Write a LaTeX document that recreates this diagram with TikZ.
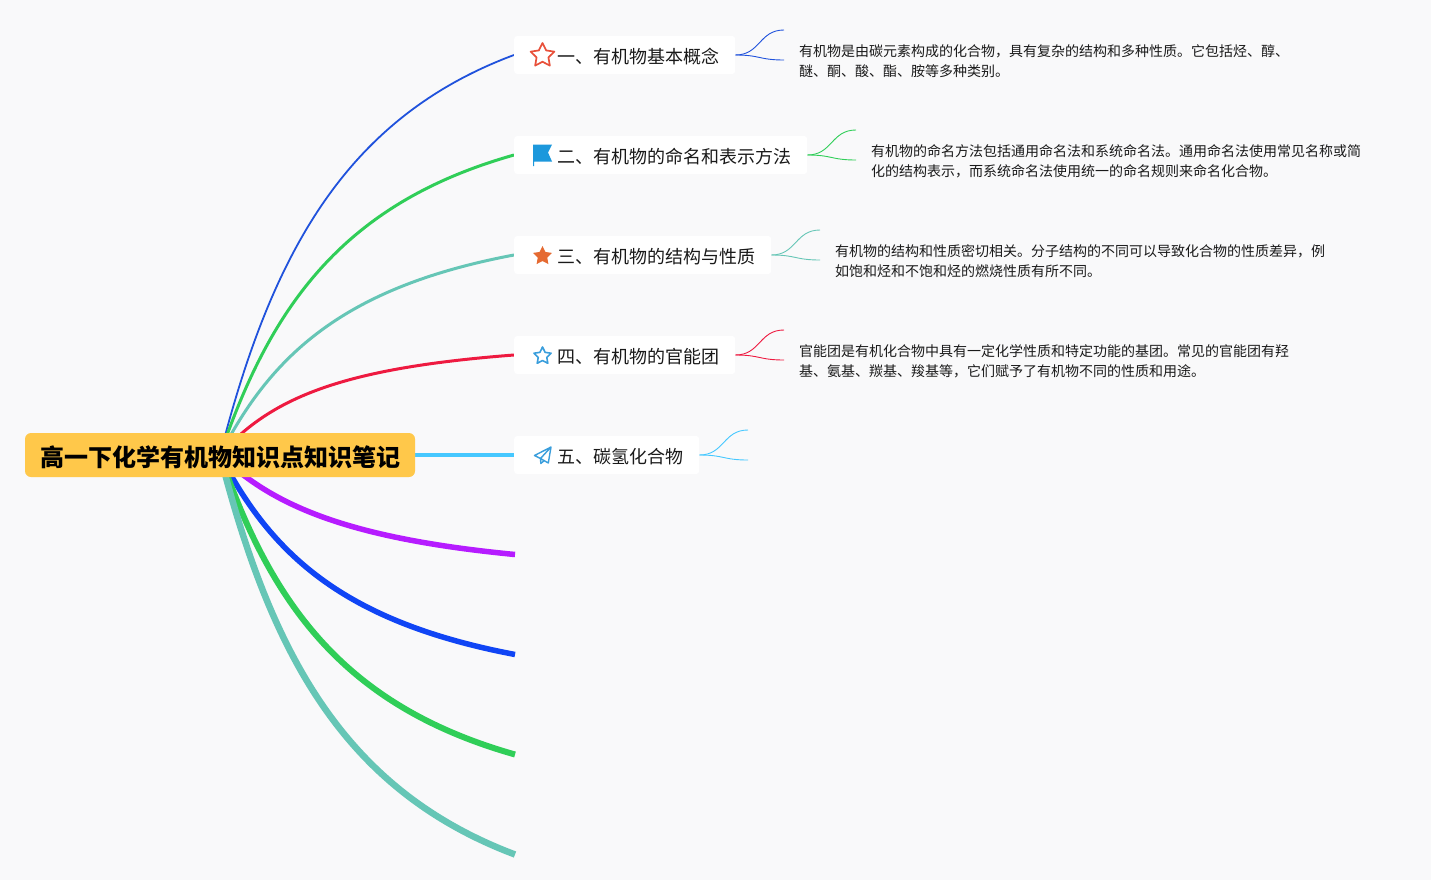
\documentclass[tikz,border=0pt]{standalone}
\usepackage{fontspec}
\setmainfont{Noto Sans CJK SC}
\usetikzlibrary{backgrounds,calc,shapes.geometric}
\definecolor{bgc}{HTML}{F9F9FA}
\definecolor{cblue}{HTML}{2052DC}
\definecolor{cgreen}{HTML}{30CE58}
\definecolor{cteal}{HTML}{66C6B6}
\definecolor{cred}{HTML}{EE1A40}
\definecolor{ccyan}{HTML}{46C8FF}
\definecolor{cpurple}{HTML}{B61CFF}
\definecolor{cdeep}{HTML}{1045F5}
\definecolor{croot}{HTML}{FFC84A}
\definecolor{ink}{HTML}{1A1A1A}
\definecolor{iconred}{HTML}{E8503A}
\definecolor{iconblue}{HTML}{1C98DC}
\definecolor{iconorange}{HTML}{E56A32}
\definecolor{iconsky}{HTML}{3A9EDC}
\tikzset{
  x=1pt,y=-1pt,
  rootbox/.style={fill=croot,rounded corners=6pt,inner sep=0pt,minimum width=390pt,minimum height=44pt,text height=23pt,text depth=0.8pt,font=\fontsize{24}{28}\selectfont\bfseries,text=black},
  topicbox/.style={fill=white,rounded corners=3pt,inner xsep=16pt,inner ysep=0pt,minimum height=38pt,text height=18pt,text depth=1.4pt,anchor=west,font=\fontsize{18}{22}\selectfont,text=ink},
  detailbox/.style={anchor=west,inner sep=0pt,align=left,font=\fontsize{14}{20}\selectfont,text=ink},
  mainedge/.style={line cap=butt},
  twig/.style={line width=0.9pt},
  iconstar/.style={star,star points=5,star point ratio=2.0,minimum size=#1,inner sep=0pt,line join=round},
}
\newcommand{\twigs}[4]{%
  \draw[twig,#4] (#1.east) .. controls ($(#1.east)+(25,0)$) and ($(#2)+(-25,0)$) .. (#2);
  \draw[twig,#4] (#1.east) .. controls ($(#1.east)+(25,0)$) and ($(#3)+(-25,0)$) .. (#3);
}
\begin{document}
\begin{tikzpicture}
\useasboundingbox (0,0) rectangle (1431,880);
\node[rootbox] (root) at (220,455) {高一下化学有机物知识点知识笔记};
\node[topicbox] (t1) at (514,55) {\hspace*{27pt}一、有机物基本概念};
\node[topicbox] (t2) at (514,155) {\hspace*{27pt}二、有机物的命名和表示方法};
\node[topicbox] (t3) at (514,255) {\hspace*{27pt}三、有机物的结构与性质};
\node[topicbox] (t4) at (514,355) {\hspace*{27pt}四、有机物的官能团};
\node[topicbox] (t5) at (514,455) {\hspace*{27pt}五、碳氢化合物};
\node[detailbox] (d1) at (799,61.5) {有机物是由碳元素构成的化合物，具有复杂的结构和多种性质。它包括烃、醇、\\醚、酮、酸、酯、胺等多种类别。};
\node[detailbox] (d2) at (871,161.5) {有机物的命名方法包括通用命名法和系统命名法。通用命名法使用常见名称或简\\化的结构表示，而系统命名法使用统一的命名规则来命名化合物。};
\node[detailbox] (d3) at (835,261.5) {有机物的结构和性质密切相关。分子结构的不同可以导致化合物的性质差异，例\\如饱和烃和不饱和烃的燃烧性质有所不同。};
\node[detailbox] (d4) at (799,361.5) {官能团是有机化合物中具有一定化学性质和特定功能的基团。常见的官能团有羟\\基、氨基、羰基、羧基等，它们赋予了有机物不同的性质和用途。};
\coordinate (e6) at (515,554.5);
\coordinate (e7) at (515,654.5);
\coordinate (e8) at (515,754.5);
\coordinate (e9) at (515,854.5);
\coordinate (a1) at (784,30); \coordinate (b1) at (784,60);
\coordinate (a2) at (856,130); \coordinate (b2) at (856,160);
\coordinate (a3) at (820,230); \coordinate (b3) at (820,260);
\coordinate (a4) at (784,330); \coordinate (b4) at (784,360);
\coordinate (a5) at (748,430); \coordinate (b5) at (748,460);
% icons
\node[iconstar=25pt,draw=iconred,line width=1.7pt,fill=none] (i1) at (542.5,55.5) {};
\draw[fill=iconblue,draw=none] (533,144.5) -- (552,144.5) -- (548,152.5) -- (552,161.5) -- (534.2,161.5) -- (534.2,166) -- (533,166) -- cycle;
\node[iconstar=20pt,fill=iconorange] (i3) at (542.5,256) {};
\node[iconstar=18pt,draw=iconsky,line width=1.6pt,fill=none] (i4) at (542.5,356) {};
\draw[draw=iconsky,line width=1.4pt,line join=round,fill=none] (551,447) -- (534.5,455.5) -- (540.5,458.5) -- cycle (551,447) -- (548.3,463) -- (540.5,458.5) (540.5,458.5) -- (540.8,463.5) -- (544,460.8);
\begin{scope}[on background layer]
\fill[bgc] (0,0) rectangle (1431,880);
\draw[mainedge,cblue,line width=1.8pt] (root.center) .. controls (271,255) and (345,118) .. (t1.west);
\draw[mainedge,cgreen,line width=3pt] (root.center) .. controls (271,305) and (344,203) .. (t2.west);
\draw[mainedge,cteal,line width=3pt] (root.center) .. controls (271,355) and (344,287) .. (t3.west);
\draw[mainedge,cred,line width=3pt] (root.center) .. controls (271,397) and (344,368) .. (t4.west);
\draw[mainedge,ccyan,line width=4.5pt] (root.center) -- (t5.west);
\draw[mainedge,cpurple,line width=5.5pt] (root.center) .. controls (271,504) and (344,538) .. (e6);
\draw[mainedge,cdeep,line width=5.5pt] (root.center) .. controls (271,554.5) and (344,622) .. (e7);
\draw[mainedge,cgreen,line width=6pt] (root.center) .. controls (271,604) and (344,706) .. (e8);
\draw[mainedge,cteal,line width=6.5pt] (root.center) .. controls (271,654) and (344,790) .. (e9);
\twigs{t1}{a1}{b1}{cblue}
\twigs{t2}{a2}{b2}{cgreen}
\twigs{t3}{a3}{b3}{cteal}
\twigs{t4}{a4}{b4}{cred}
\twigs{t5}{a5}{b5}{ccyan}
\end{scope}
\end{tikzpicture}
\end{document}
